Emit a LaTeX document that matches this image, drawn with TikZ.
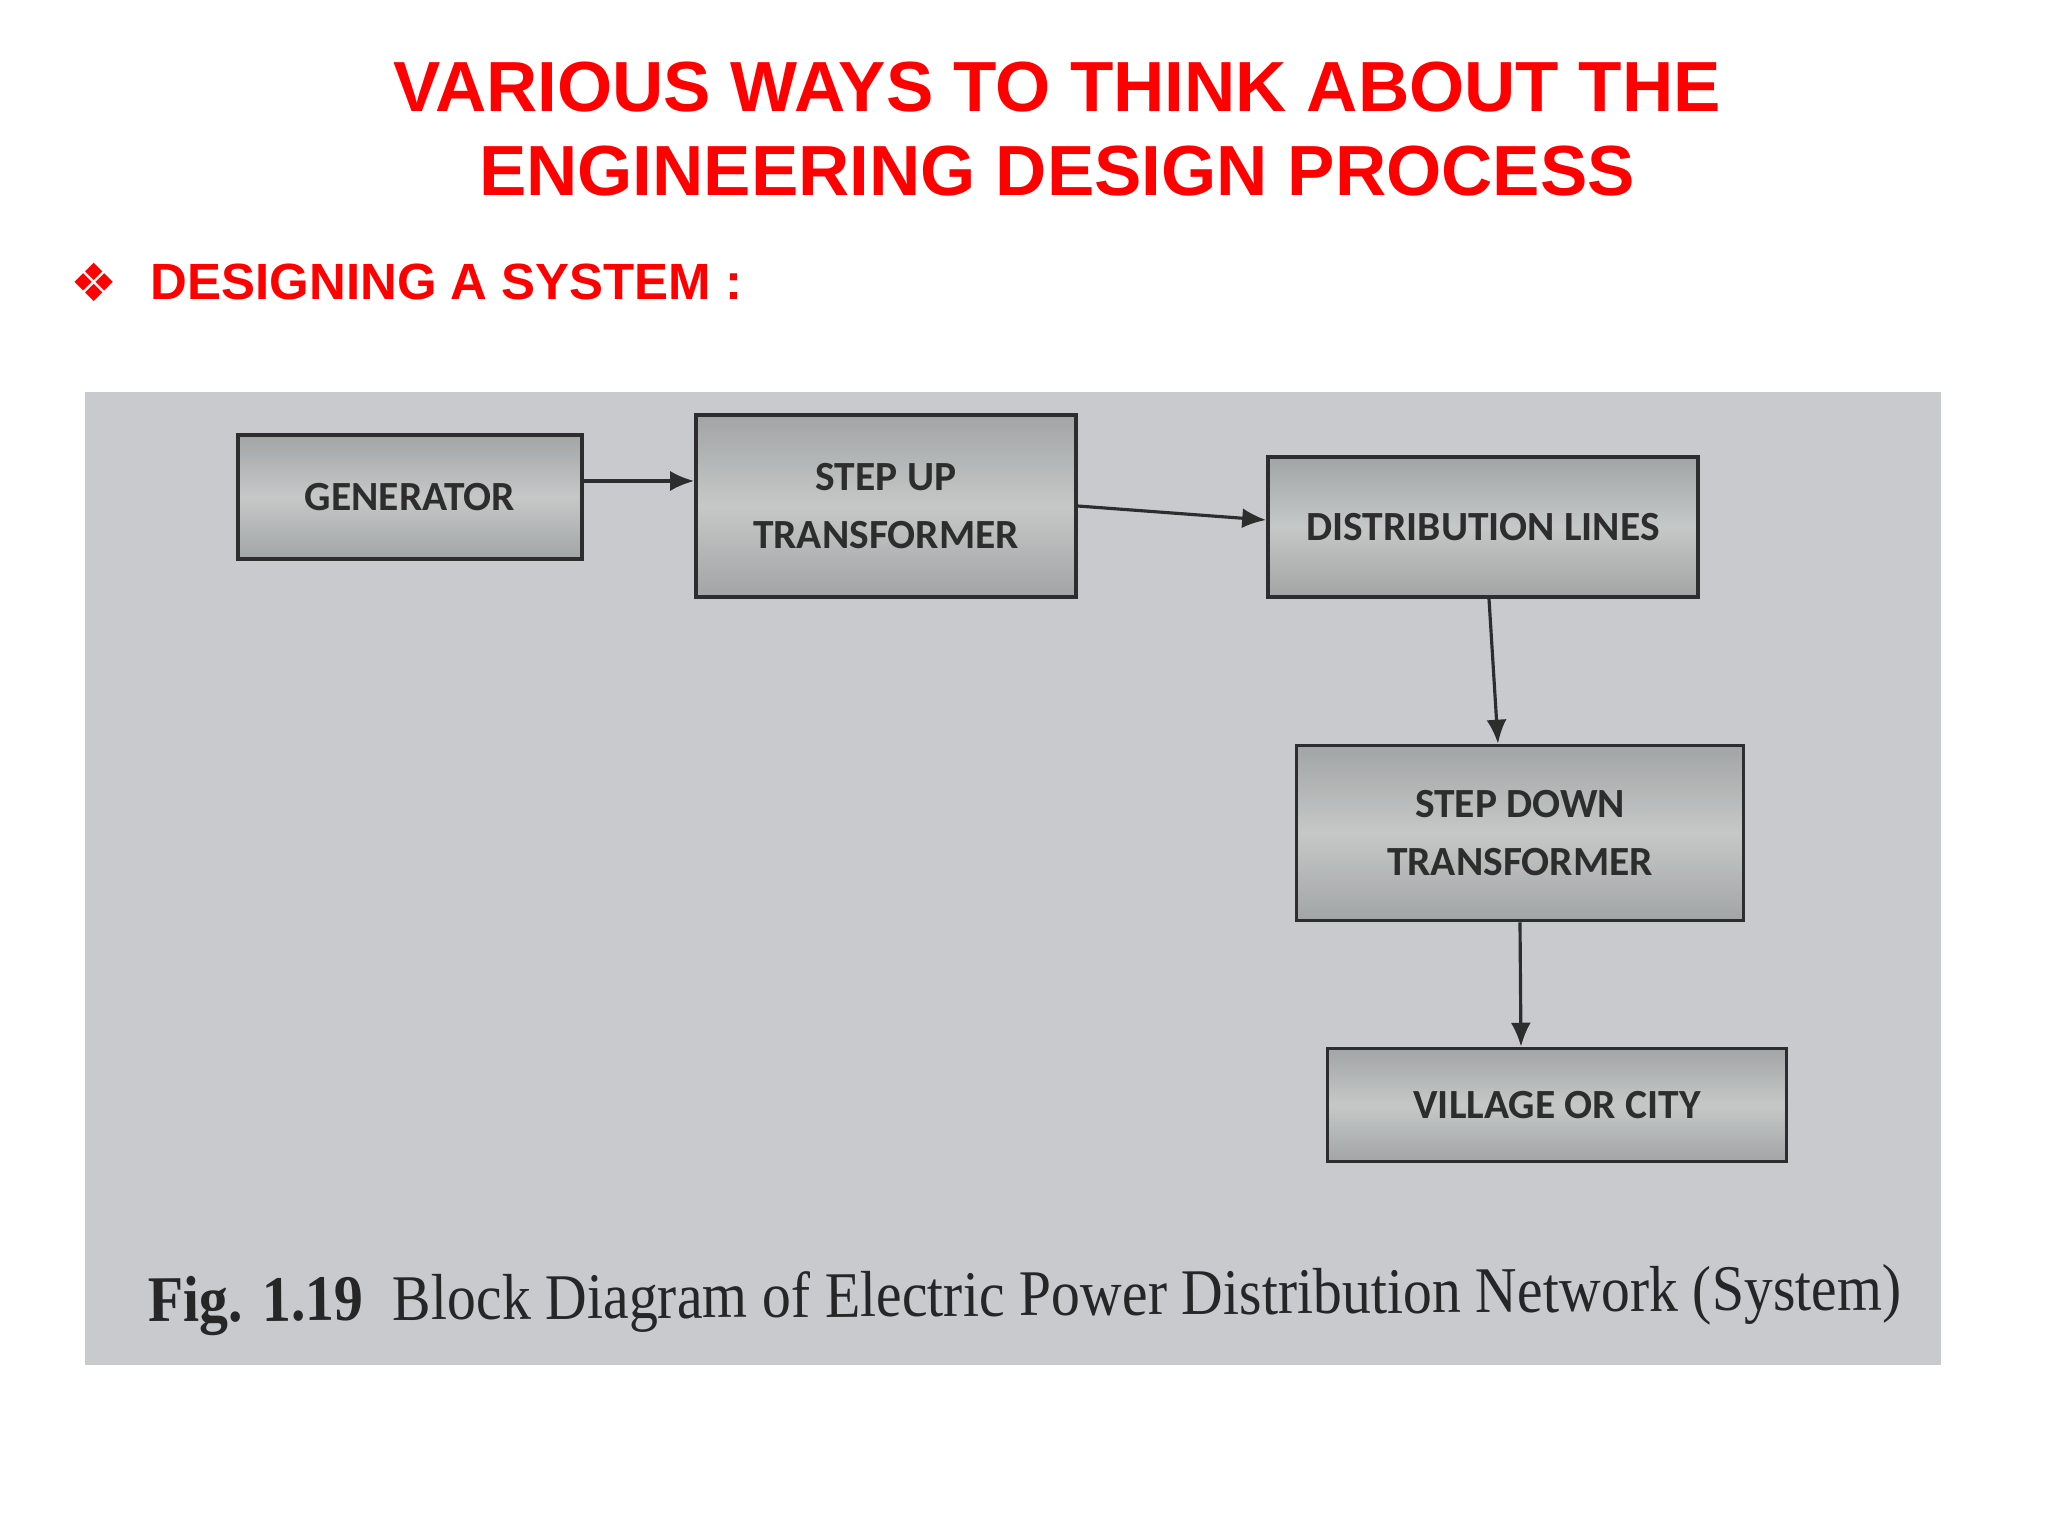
\documentclass[tikz,border=0pt]{standalone}
\usepackage{fontspec}
\setmainfont{Liberation Serif}
\setsansfont{Liberation Sans}
\newfontfamily\blockfont{Carlito}
\newfontfamily\dingfont{DejaVu Sans}
\usetikzlibrary{arrows.meta,positioning}
\definecolor{titlered}{RGB}{255,0,0}
\definecolor{photogray}{RGB}{200,202,206}
\definecolor{boxdark}{RGB}{162,165,165}
\definecolor{boxlight}{RGB}{198,200,200}
\definecolor{ink}{RGB}{45,45,45}
\tikzstyle{block} = [rectangle, 
text centered, 
align=center,
draw=ink, 
line width=1pt,
top color=boxdark, bottom color=boxdark, middle color=boxlight,
text=ink,
font=\blockfont\bfseries\fontsize{11.8}{16.5}\selectfont]
\tikzstyle{arrow} = [line width=0.9pt, draw=ink, ->, >={Latex[length=0.24cm,width=0.2cm]}]

\begin{document}
\begin{tikzpicture}[node distance=1.5cm]
\useasboundingbox (0,0) rectangle (20.48,-15.36);
\fill[white] (0,0) rectangle (20.48,-15.36);

% Heading
\node (title) [text=titlered, align=center, font=\sffamily\bfseries\fontsize{20.2}{23.7}\selectfont] at (10.57,-1.29) {VARIOUS WAYS TO THINK ABOUT THE\\ENGINEERING DESIGN PROCESS};
\node (bullet) [text=titlered, font=\dingfont\fontsize{15}{18}\selectfont] at (0.94,-2.82) {❖};
\node (subtitle) [text=titlered, anchor=west, inner sep=0pt, font=\sffamily\bfseries\fontsize{14.5}{17}\selectfont] at (1.50,-2.82) {DESIGNING A SYSTEM :};

% Photo of the figure
\fill[photogray] (0.85,-3.92) rectangle (19.41,-13.65);

% Nodes
\node (gen) [block, minimum width=3.44cm, minimum height=1.24cm] at (4.10,-4.97) {GENERATOR};
\node (stepup) [block, right of=gen, xshift=3.26cm, yshift=-0.09cm, minimum width=3.80cm, minimum height=1.82cm] {STEP UP\\TRANSFORMER};
\node (dist) [block, right of=stepup, xshift=4.47cm, yshift=-0.21cm, minimum width=4.30cm, minimum height=1.40cm] {DISTRIBUTION LINES};
\node (stepdown) [block, below of=dist, xshift=0.37cm, yshift=-1.56cm, minimum width=4.47cm, minimum height=1.75cm] {STEP DOWN\\TRANSFORMER};
\node (village) [block, below of=stepdown, xshift=0.37cm, yshift=-1.22cm, minimum width=4.59cm, minimum height=1.13cm] {VILLAGE OR CITY};

% Caption
\node (caption) [text=black!85, rotate=0.4, font=\fontsize{18.5}{22}\selectfont] at (10.25,-13.0) {\scalebox{0.89}[1]{\textbf{Fig. 1.19}\ \ Block Diagram of Electric Power Distribution Network (System)}};

% Arrows
\draw [arrow] ([yshift=0.16cm]gen.east) -- ([yshift=0.25cm]stepup.west);
\draw [arrow] (stepup.east) -- ([yshift=0.07cm]dist.west);
\draw [arrow] ([xshift=0.06cm]dist.south) -- ([xshift=-0.22cm]stepdown.north);
\draw [arrow] (stepdown.south) -- ([xshift=-0.36cm]village.north);

\end{tikzpicture}
\end{document}
